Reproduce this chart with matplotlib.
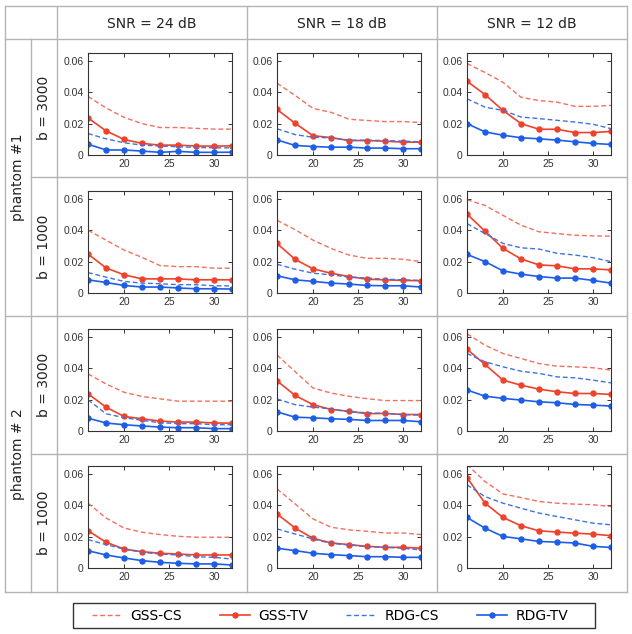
import matplotlib
matplotlib.use("Agg")
import matplotlib.pyplot as plt
from matplotlib.lines import Line2D
from matplotlib.patches import Rectangle

W, H = 632, 634

snr_labels = ["SNR = 24 dB", "SNR = 18 dB", "SNR = 12 dB"]
phantom_labels = ["phantom #1", "phantom # 2"]
b_labels = ["b = 3000", "b = 1000", "b = 3000", "b = 1000"]
series_names = ["GSS-CS", "GSS-TV", "RDG-CS", "RDG-TV"]

x = [16, 18, 20, 22, 24, 26, 28, 30, 32]

# each row: [SNR 24, SNR 18, SNR 12]
# row 1: phantom #1, b = 3000
gss_cs_r1 = [[0.0373, 0.030, 0.024, 0.020, 0.0175, 0.0175, 0.017, 0.0165, 0.0165],
             [0.0458, 0.038, 0.0297, 0.0272, 0.0228, 0.022, 0.0213, 0.0213, 0.0207],
             [0.0583, 0.0526, 0.0463, 0.0368, 0.0347, 0.0337, 0.031, 0.031, 0.0316]]
gss_tv_r1 = [[0.0236, 0.0154, 0.0099, 0.0074, 0.0063, 0.0063, 0.0057, 0.0057, 0.0058],
             [0.029, 0.0203, 0.0123, 0.0111, 0.0092, 0.0092, 0.0088, 0.0082, 0.0082],
             [0.047, 0.0385, 0.0284, 0.020, 0.0164, 0.0164, 0.0143, 0.0143, 0.015]]
rdg_cs_r1 = [[0.0137, 0.0103, 0.0078, 0.0063, 0.0057, 0.0053, 0.0048, 0.0046, 0.0045],
             [0.0167, 0.013, 0.0113, 0.0109, 0.0094, 0.0094, 0.0092, 0.0088, 0.0084],
             [0.0358, 0.0305, 0.0284, 0.0242, 0.0232, 0.0221, 0.021, 0.0196, 0.0168]]
rdg_tv_r1 = [[0.0069, 0.0032, 0.0032, 0.0025, 0.0017, 0.0023, 0.0017, 0.0017, 0.0018],
             [0.0096, 0.0061, 0.0054, 0.005, 0.005, 0.0044, 0.0044, 0.004, 0.004],
             [0.020, 0.0147, 0.0126, 0.011, 0.0103, 0.0095, 0.0084, 0.0074, 0.0067]]

# row 2: phantom #1, b = 1000
gss_cs_r2 = [[0.040, 0.0337, 0.0274, 0.0227, 0.0175, 0.0168, 0.0168, 0.0158, 0.0158],
             [0.0463, 0.0404, 0.0337, 0.0284, 0.0242, 0.0221, 0.0221, 0.0215, 0.020],
             [0.0594, 0.0558, 0.0495, 0.0432, 0.039, 0.0379, 0.0368, 0.0364, 0.0362]]
gss_tv_r2 = [[0.0248, 0.016, 0.0116, 0.009, 0.009, 0.009, 0.0084, 0.0084, 0.0084],
             [0.0316, 0.0215, 0.0154, 0.0126, 0.0105, 0.0088, 0.0084, 0.008, 0.0078],
             [0.0503, 0.0394, 0.0284, 0.0217, 0.0179, 0.0173, 0.0154, 0.0154, 0.0147]]
rdg_cs_r2 = [[0.013, 0.0101, 0.0074, 0.0063, 0.0059, 0.0053, 0.0053, 0.0046, 0.0045],
             [0.0183, 0.0152, 0.0126, 0.0116, 0.0101, 0.0095, 0.0088, 0.0084, 0.008],
             [0.0442, 0.0379, 0.0316, 0.0288, 0.028, 0.0253, 0.0242, 0.0225, 0.020]]
rdg_tv_r2 = [[0.0084, 0.0067, 0.0048, 0.0038, 0.0038, 0.0032, 0.0027, 0.0027, 0.0025],
             [0.011, 0.0084, 0.0074, 0.0063, 0.0057, 0.0048, 0.0046, 0.0046, 0.0038],
             [0.0246, 0.020, 0.0141, 0.012, 0.0105, 0.0095, 0.0095, 0.008, 0.0063]]

# row 3: phantom #2, b = 3000
gss_cs_r3 = [[0.0364, 0.030, 0.0247, 0.022, 0.0205, 0.019, 0.019, 0.019, 0.019],
             [0.0484, 0.0379, 0.0274, 0.0242, 0.0221, 0.0206, 0.0194, 0.0194, 0.0194],
             [0.062, 0.0547, 0.0494, 0.0462, 0.043, 0.0413, 0.0409, 0.0403, 0.0388]]
gss_tv_r3 = [[0.0237, 0.0152, 0.0093, 0.0078, 0.0063, 0.0057, 0.0057, 0.0051, 0.005],
             [0.032, 0.0227, 0.0168, 0.0137, 0.0126, 0.011, 0.0112, 0.0105, 0.0105],
             [0.0521, 0.0424, 0.0324, 0.0292, 0.0267, 0.025, 0.0239, 0.0239, 0.0233]]
rdg_cs_r3 = [[0.0199, 0.011, 0.0085, 0.0068, 0.0053, 0.0047, 0.0047, 0.004, 0.004],
             [0.0204, 0.0168, 0.0152, 0.0141, 0.0122, 0.0116, 0.0112, 0.0105, 0.0101],
             [0.0494, 0.0441, 0.0409, 0.0381, 0.0367, 0.0345, 0.0339, 0.0324, 0.0307]]
rdg_tv_r3 = [[0.0082, 0.0051, 0.004, 0.0032, 0.0025, 0.0021, 0.0021, 0.0015, 0.0015],
             [0.0122, 0.0088, 0.0084, 0.0078, 0.0074, 0.0067, 0.0067, 0.0067, 0.0059],
             [0.0261, 0.0222, 0.0208, 0.0197, 0.0186, 0.018, 0.0169, 0.0165, 0.0159]]

# row 4: phantom #2, b = 1000
gss_cs_r4 = [[0.0413, 0.0319, 0.0255, 0.0228, 0.0213, 0.0202, 0.0196, 0.0196, 0.0196],
             [0.0504, 0.0409, 0.0313, 0.026, 0.0243, 0.0234, 0.0223, 0.0223, 0.0213],
             [0.066, 0.0551, 0.0472, 0.0449, 0.0424, 0.0413, 0.0407, 0.0403, 0.0392]]
gss_tv_r4 = [[0.0238, 0.0164, 0.0121, 0.0104, 0.0094, 0.0089, 0.0083, 0.0083, 0.0083],
             [0.0345, 0.0255, 0.0189, 0.016, 0.0149, 0.0138, 0.0132, 0.0132, 0.0126],
             [0.0576, 0.0413, 0.0322, 0.0269, 0.0237, 0.0229, 0.0222, 0.0216, 0.0206]]
rdg_cs_r4 = [[0.0181, 0.0149, 0.0121, 0.010, 0.0089, 0.0083, 0.0072, 0.0068, 0.0057],
             [0.0249, 0.0217, 0.0185, 0.0157, 0.0147, 0.0136, 0.0132, 0.0126, 0.0115],
             [0.053, 0.0455, 0.0413, 0.0381, 0.035, 0.0328, 0.0307, 0.0286, 0.0275]]
rdg_tv_r4 = [[0.011, 0.0083, 0.0064, 0.0047, 0.0036, 0.003, 0.0026, 0.0026, 0.0019],
             [0.0126, 0.0111, 0.0094, 0.0085, 0.0079, 0.0072, 0.0072, 0.0068, 0.0068],
             [0.0322, 0.0254, 0.0201, 0.0186, 0.0169, 0.0165, 0.0159, 0.0138, 0.0131]]

rows = [
    (gss_cs_r1, gss_tv_r1, rdg_cs_r1, rdg_tv_r1),
    (gss_cs_r2, gss_tv_r2, rdg_cs_r2, rdg_tv_r2),
    (gss_cs_r3, gss_tv_r3, rdg_cs_r3, rdg_tv_r3),
    (gss_cs_r4, gss_tv_r4, rdg_cs_r4, rdg_tv_r4),
]

# styles
red_dash = "#f2705f"
red = "#f0412b"
blue_dash = "#3f73e2"
blue = "#1d5ee8"
styles = [
    dict(color=red_dash, lw=1.0, ls=(0, (3.5, 2))),
    dict(color=red, lw=1.2, ls="-", marker="o", ms=3.6),
    dict(color=blue_dash, lw=1.0, ls=(0, (3.5, 2))),
    dict(color=blue, lw=1.2, ls="-", marker="o", ms=3.6),
]
grid_c = "#b4b4b4"

# layout in pixels (top-left origin)
col_lines = [5, 31, 57, 247, 437, 627]
row_lines = [6, 39, 177, 316, 454, 592]
ax_left = [88, 277, 467]
ax_top = [53, 191, 329, 466]
ax_w, ax_h = 144, 102

fig = plt.figure(figsize=(W / 100, H / 100), dpi=100)


def fx(px):
    return px / W


def fy(py):
    return 1 - py / H


def hline(y, x0, x1):
    fig.add_artist(Line2D([fx(x0), fx(x1)], [fy(y), fy(y)], color=grid_c, lw=1.0))


def vline(x0, y0, y1):
    fig.add_artist(Line2D([fx(x0), fx(x0)], [fy(y0), fy(y1)], color=grid_c, lw=1.0))


# table grid
hline(row_lines[0], col_lines[0], col_lines[-1])
hline(row_lines[1], col_lines[0], col_lines[-1])
hline(row_lines[2], col_lines[1], col_lines[-1])
hline(row_lines[3], col_lines[0], col_lines[-1])
hline(row_lines[4], col_lines[1], col_lines[-1])
hline(row_lines[5], col_lines[0], col_lines[-1])
vline(col_lines[0], row_lines[0], row_lines[-1])
vline(col_lines[1], row_lines[1], row_lines[-1])
for cx in col_lines[2:]:
    vline(cx, row_lines[0], row_lines[-1])

# header and row labels
for j, lab in enumerate(snr_labels):
    cx = (col_lines[j + 2] + col_lines[j + 3]) / 2
    fig.text(fx(cx), fy(24), lab, ha="center", va="center", fontsize=10,
             family="DejaVu Sans", color="#222222")
for p, lab in enumerate(phantom_labels):
    cy = (row_lines[1 + 2 * p] + row_lines[3 + 2 * p]) / 2
    fig.text(fx(18), fy(cy), lab, ha="center", va="center", rotation=90,
             fontsize=10, color="#222222")
for r, lab in enumerate(b_labels):
    cy = (row_lines[1 + r] + row_lines[2 + r]) / 2
    fig.text(fx(44), fy(cy), lab, ha="center", va="center", rotation=90,
             fontsize=10, color="#222222")

# panels
handles = []
for r, series in enumerate(rows):
    for c in range(3):
        ax = fig.add_axes([fx(ax_left[c]), fy(ax_top[r] + ax_h), ax_w / W, ax_h / H])
        for k, s in enumerate(series):
            ln, = ax.plot(x, s[c], **styles[k], label=series_names[k])
            if r == 0 and c == 0:
                handles.append(ln)
        ax.set_xlim(16, 32)
        ax.set_ylim(0, 0.065)
        ax.set_xticks([20, 25, 30])
        ax.set_yticks([0, 0.02, 0.04, 0.06])
        ax.set_yticklabels(["0", "0.02", "0.04", "0.06"])
        ax.tick_params(direction="in", top=True, right=True, length=3, width=0.7,
                       labelsize=7.5, labelcolor="#333333", color="#333333", pad=3)
        for lbl in ax.get_xticklabels() + ax.get_yticklabels():
            lbl.set_family("Liberation Sans")
        for sp in ax.spines.values():
            sp.set_color("#333333")
            sp.set_linewidth(0.8)

# legend: box drawn separately (wider side padding, as in the original)
fig.add_artist(Rectangle((fx(73), fy(628)), (595 - 73) / W, 25 / H,
                         transform=fig.transFigure, fill=False,
                         edgecolor="#333333", lw=1.0))
fig.legend(handles=handles, loc="center", ncol=4,
           bbox_to_anchor=(fx(330), fy(615.5)), fontsize=10,
           frameon=False, handlelength=2.2, handletextpad=0.6,
           columnspacing=2.7, borderpad=0.2)

fig.savefig("out.png", dpi=100)
